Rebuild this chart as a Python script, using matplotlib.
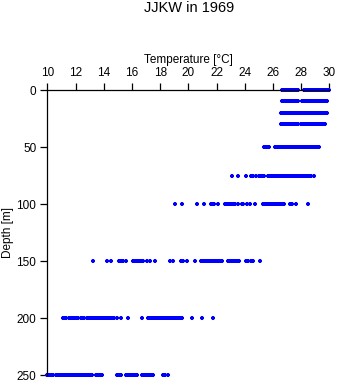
import matplotlib
matplotlib.use('Agg')
from matplotlib import pyplot as plt

# depths (m) and temperatures (degC)
depths = [0, 10, 20, 30, 50, 75, 100, 150, 200, 250]

temp_0 = [26.65, 26.76, 26.87, 26.98, 27.1, 27.2, 27.32, 27.43, 27.55, 27.65, 27.74,
          28.21, 28.33, 28.47, 28.6, 28.74, 28.9, 29.02, 29.13, 29.24, 29.36, 29.47,
          29.58, 29.7, 29.82, 29.96]
temp_10 = [26.65, 26.77, 26.88, 27.0, 27.12, 27.24, 27.35, 27.47, 27.6, 27.74,
           28.07, 28.2, 28.32, 28.45, 28.57, 28.7, 28.82, 28.95, 29.07, 29.2, 29.32,
           29.45, 29.57, 29.68, 29.8]
temp_20 = [26.56, 26.68, 26.8, 26.92, 27.04, 27.16, 27.28, 27.4, 27.52, 27.64, 27.74,
           27.86, 27.98, 28.1, 28.22, 28.35, 28.47, 28.6, 28.72, 28.85, 28.97, 29.1,
           29.22, 29.35, 29.47, 29.6, 29.72, 29.8]
temp_30 = [26.56, 26.68, 26.8, 26.93, 27.05, 27.18, 27.3, 27.42, 27.55, 27.67, 27.8,
           27.98, 28.05, 28.16, 28.26, 28.33, 28.46, 28.58, 28.7, 28.83, 28.95, 29.08,
           29.2, 29.33, 29.45, 29.57, 29.68]
temp_50 = [25.38, 25.5, 25.62, 25.73, 26.13, 26.25, 26.37, 26.5, 26.62, 26.74, 26.86,
           26.98, 27.1, 27.22, 27.35, 27.47, 27.6, 27.72, 27.85, 27.97, 28.1, 28.22,
           28.35, 28.48, 28.6, 28.72, 28.85, 28.97, 29.1, 29.27]
temp_75 = [23.06, 23.49, 24.08, 24.41, 24.55, 24.77, 25.0, 25.12, 25.25, 25.38, 25.66,
           25.78, 25.9, 26.02, 26.15, 26.27, 26.4, 26.52, 26.65, 26.77, 26.9, 27.02,
           27.15, 27.27, 27.4, 27.52, 27.65, 27.76, 27.86, 27.98, 28.1, 28.22, 28.35,
           28.47, 28.6, 28.72, 28.9]
temp_100 = [19.04, 19.56, 20.58, 21.1, 21.6, 21.72, 21.85, 22.07, 22.59, 22.7, 22.83,
            22.95, 23.08, 23.2, 23.33, 23.53, 23.77, 23.9, 24.13, 24.36, 24.72, 25.3,
            25.42, 25.55, 25.67, 25.8, 25.92, 26.05, 26.17, 26.3, 26.42, 26.55, 26.67,
            26.79, 27.2, 27.35, 27.6, 28.45]
temp_150 = [13.25, 14.2, 14.5, 15.07, 15.2, 15.35, 15.57, 16.04, 16.16, 16.3, 16.42,
            16.55, 16.68, 16.8, 17.04, 17.27, 17.6, 18.69, 18.9, 19.45, 19.6, 19.87,
            20.46, 20.9, 21.02, 21.15, 21.28, 21.4, 21.52, 21.65, 21.78, 21.9, 22.0,
            22.1, 22.25, 22.4, 22.8, 22.92, 23.05, 23.18, 23.3, 23.45, 23.6, 24.05,
            24.2, 24.45, 24.6, 25.05]
temp_200 = [11.08, 11.2, 11.35, 11.5, 11.65, 11.83, 11.95, 12.08, 12.2, 12.35, 12.5,
            12.62, 12.78, 12.96, 13.1, 13.22, 13.35, 13.48, 13.6, 13.73, 13.86, 14.0,
            14.12, 14.25, 14.38, 14.5, 14.62, 14.72, 14.95, 15.19, 15.69, 16.74, 17.15,
            17.28, 17.4, 17.52, 17.65, 17.78, 17.9, 18.03, 18.15, 18.28, 18.4, 18.53,
            18.65, 18.78, 18.9, 19.03, 19.15, 19.28, 19.4, 19.52, 20.23, 20.94, 21.76]
temp_250 = [10.0, 10.12, 10.25, 10.4, 10.6, 10.72, 10.85, 10.97, 11.1, 11.22, 11.35,
            11.47, 11.6, 11.72, 11.83, 11.9, 12.03, 12.15, 12.28, 12.4, 12.53, 12.66,
            12.78, 12.9, 13.05, 13.18, 13.44, 13.58, 13.72, 13.89, 14.95, 15.08, 15.21,
            15.57, 15.7, 15.82, 15.95, 16.08, 16.2, 16.33, 16.68, 16.8, 16.92, 17.08,
            17.2, 17.33, 17.46, 18.21, 18.35, 18.57]

rows = [temp_0, temp_10, temp_20, temp_30, temp_50, temp_75,
        temp_100, temp_150, temp_200, temp_250]

plt.rcParams['font.family'] = ['Liberation Sans', 'DejaVu Sans']

fig = plt.figure(figsize=(3.41, 3.84), dpi=100)
ax = fig.add_axes([0.139, 0.0234, 0.827, 0.7422])

for d, temps in zip(depths, rows):
    ax.plot(temps, [d] * len(temps), linestyle='none', marker='+',
            ms=3.5, mew=1.6, color='#0000ff', clip_on=False)

ax.set_xlim(10, 30)
ax.set_ylim(250, 0)
ax.set_xticks(range(10, 31, 2))
ax.set_yticks([0, 50, 100, 150, 200, 250])

ax.xaxis.tick_top()
ax.xaxis.set_label_position('top')
ax.spines['right'].set_visible(False)
ax.spines['bottom'].set_visible(False)
for s in ('top', 'left'):
    ax.spines[s].set_linewidth(0.9)
ax.tick_params(direction='out', labelsize=8.5, length=5, width=0.9, pad=3)

ax.set_xlabel('Temperature [°C]', fontsize=8.5, labelpad=3)
ax.set_ylabel('Depth [m]', fontsize=8.5, labelpad=2)

fig.text(0.555, 0.978, 'JJKW in 1969', ha='center', va='center', fontsize=10.5)

fig.savefig('out.png', dpi=100)
